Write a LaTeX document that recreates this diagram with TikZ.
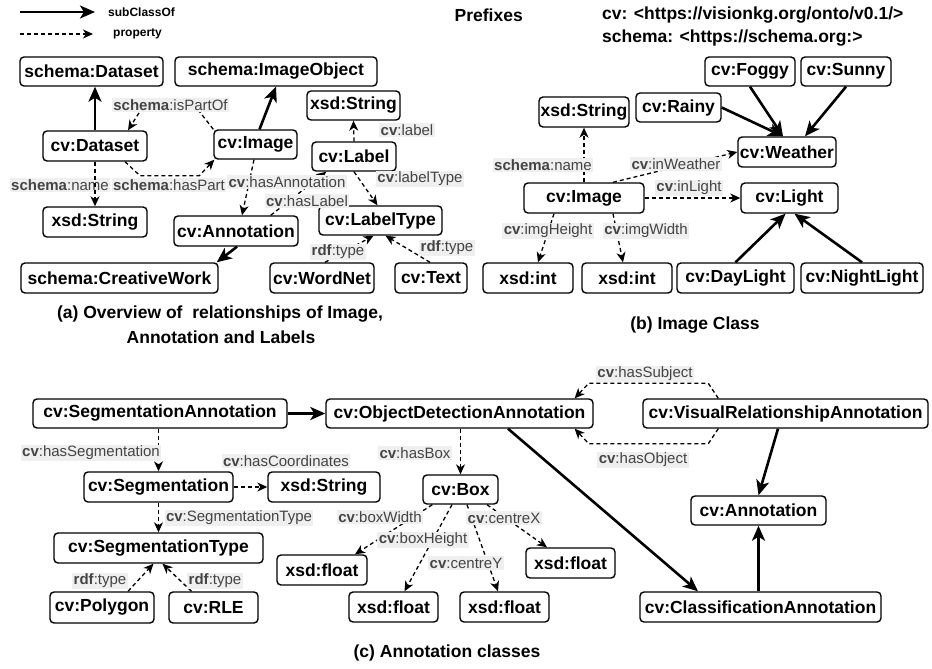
\documentclass[tikz,border=0pt]{standalone}
\usepackage{fontspec}
\setmainfont{Liberation Sans}
\usetikzlibrary{arrows.meta,calc}
\definecolor{labtext}{HTML}{444444}
\definecolor{labbg}{HTML}{EFEFEF}
\tikzset{
  box/.style={draw, line width=1.4pt, rounded corners=4pt, inner sep=0pt,
    font=\fontsize{17.5}{20}\selectfont\bfseries},
  lab/.style={fill=labbg, text=labtext, inner sep=1.5pt,
    font=\fontsize{15}{16}\selectfont},
  subc/.style={line width=2.6pt, -{Stealth[length=15pt,width=13pt,inset=4pt]}},
  prop/.style={line width=1.3pt, dash pattern=on 4pt off 3pt,
    -{Stealth[length=10pt,width=9pt,inset=3pt]}},
  captxt/.style={font=\fontsize{17.5}{20}\selectfont\bfseries, inner sep=0pt},
  legtxt/.style={font=\fontsize{12}{13}\selectfont\bfseries, inner sep=0pt, anchor=west},
}
\newcommand\bx[5]{\node[box,minimum width=#4pt,minimum height=#5pt] (#1) at (#2) {#3};}
\begin{document}
\begin{tikzpicture}[x=1pt,y=-1pt]
\fill[white] (0,0) rectangle (932,669);
\useasboundingbox (0,0) rectangle (932,669);

% ---------- legend ----------
\coordinate (lgA) at (20,12);
\coordinate (lgB) at (95,12);
\coordinate (lgC) at (20,34);
\coordinate (lgD) at (93,34);
\draw[subc] (lgA) -- (lgB);
\draw[prop] (lgC) -- (lgD);
\node[legtxt] (lgT1) at (108,12) {subClassOf};
\node[legtxt] (lgT2) at (113,34) {property};

% ---------- prefixes ----------
\node[captxt, anchor=east] (pfx) at (523,15) {Prefixes};
\node[captxt, anchor=west] (pfx1) at (602,15) {cv: <https://visionkg.org/onto/v0.1/>};
\node[captxt, anchor=west] (pfx2) at (602,38) {schema: <https://schema.org:>};

% ---------- panel (a) ----------
\bx{sDataset}{91.5,71.5}{schema:Dataset}{143}{29}
\bx{sImageObject}{276,71.5}{schema:ImageObject}{202}{29}
\bx{aDataset}{95,146}{cv:Dataset}{104}{30}
\bx{aImage}{255.5,144.5}{cv:Image}{83}{29}
\bx{aStrL}{95,222}{xsd:String}{104}{30}
\bx{aAnn}{236,231}{cv:Annotation}{124}{30}
\bx{aCW}{119.5,278}{schema:CreativeWork}{197}{30}
\bx{aStrT}{353.5,105.5}{xsd:String}{93}{29}
\bx{aLabel}{354,156.5}{cv:Label}{84}{29}
\bx{aLT}{380.5,220.5}{cv:LabelType}{123}{29}
\bx{aWN}{322,278}{cv:WordNet}{104}{30}
\bx{aText}{431,278}{cv:Text}{72}{30}

\node[lab] (lName1) at (60,185) {\textbf{schema}:name};
\draw[subc] (aDataset.north) -- (aDataset.north |- sDataset.south);
\draw[subc] ($(aImage.north)+(4,0)$) -- (sImageObject.south);
\draw[prop] (aImage.north west) -- ++(-14,-18) -- ($(aDataset.north)+(45,-19)$) -- ($(aDataset.north)+(33,0)$);
\draw[prop] ($(aDataset.south)+(30,0)$) -- ++(15,14) -- ($(aImage.south west)+(-14,16)$) -- ($(aImage.south west)+(1,0)$);
\draw[prop] (aDataset.south) -- (aStrL.north);
\draw[prop] ($(aImage.south)+(-1.5,0)$) -- ($(aAnn.north)+(6,0)$);
\draw[prop] ($(aAnn.north east)+(-28,0)$) -- ($(aLabel.south west)+(15,0)$);
\draw[prop] (aLabel.north) -- (aStrT.south);
\draw[prop] (aLabel.south) -- ($(aLT.north)+(-3,0)$);
\draw[prop] ($(aWN.north)+(3,0)$) -- ($(aLT.south)+(-7,0)$);
\draw[prop] ($(aText.north)+(-1,0)$) -- ($(aLT.south)+(5,0)$);
\draw[subc] ($(aAnn.south)+(1,0)$) -- ($(aCW.north east)+(-2,0)$);

\node[lab] (lPartOf) at (170.5,105) {\textbf{schema}:isPartOf};
\node[lab] (lHasPart) at (169,185) {\textbf{schema}:hasPart};
\node[lab] (lHasAnn) at (287,182) {\textbf{cv}:hasAnnotation};
\node[lab] (lHasLabel) at (307,201) {\textbf{cv}:hasLabel};
\node[lab] (lLabel) at (407,130) {\textbf{cv}:label};
\node[lab] (lLabelType) at (420,179) {\textbf{cv}:labelType};
\node[lab] (lType1) at (338,252) {\textbf{rdf}:type};
\node[lab] (lType2) at (447,248) {\textbf{rdf}:type};

\node[captxt] (capA1) at (220,314) {(a) Overview of\ \ relationships of Image,};
\node[captxt] (capA2) at (221,337) {Annotation and Labels};

% ---------- panel (b) ----------
\bx{bFoggy}{750,71.5}{cv:Foggy}{90}{29}
\bx{bSunny}{846,71.5}{cv:Sunny}{90}{29}
\bx{bRainy}{678.5,107.5}{cv:Rainy}{85}{29}
\bx{bStr}{584,112}{xsd:String}{90}{30}
\bx{bWeather}{787,152}{cv:Weather}{98}{30}
\bx{bImage}{584,198}{cv:Image}{120}{30}
\bx{bLight}{789.5,198}{cv:Light}{97}{30}
\bx{bInt1}{528,278}{xsd:int}{90}{30}
\bx{bInt2}{627,278}{xsd:int}{90}{30}
\bx{bDay}{735.5,278}{cv:DayLight}{117}{30}
\bx{bNight}{862,278}{cv:NightLight}{122}{30}

\draw[subc] (bRainy.east) -- ($(bWeather.north)+(-4,0)$);
\draw[subc] (bFoggy.south) -- ($(bWeather.north)+(-4,0)$);
\draw[subc] (bSunny.south) -- ($(bWeather.north)+(18,0)$);
\draw[prop] (bImage.north) -- (bStr.south);
\draw[prop] ($(bImage.north)+(29,0)$) -- (bWeather.west);
\draw[prop] (bImage.east) -- (bLight.west);
\draw[prop] ($(bImage.south)+(-30,0)$) -- ($(bInt1.north)+(10,0)$);
\draw[prop] ($(bImage.south)+(29,0)$) -- ($(bInt2.north)+(-4,0)$);
\draw[subc] (bDay.north) -- ($(bLight.south)+(-4,0)$);
\draw[subc] (bNight.north) -- ($(bLight.south)+(5,0)$);

\node[lab] (lbName) at (543,165) {\textbf{schema}:name};
\node[lab] (lbWeather) at (676,164) {\textbf{cv}:inWeather};
\node[lab] (lbLight) at (689,188) {\textbf{cv}:inLight};
\node[lab] (lbH) at (548,231) {\textbf{cv}:imgHeight};
\node[lab] (lbW) at (646,231) {\textbf{cv}:imgWidth};

\node[captxt] (capB) at (695,325) {(b) Image Class};

% ---------- panel (c) ----------
\bx{cSegAnn}{160,413.5}{cv:SegmentationAnnotation}{254}{29}
\bx{cObj}{459.5,413.5}{cv:ObjectDetectionAnnotation}{267}{29}
\bx{cVis}{785.5,413.5}{cv:VisualRelationshipAnnotation}{285}{29}
\bx{cAnn}{758.5,510.5}{cv:Annotation}{135}{29}
\bx{cCls}{760.5,607}{cv:ClassificationAnnotation}{241}{30}
\bx{cSeg}{158.5,487}{cv:Segmentation}{149}{30}
\bx{cStr}{324,487}{xsd:String}{112}{30}
\bx{cBox}{460.5,489.5}{cv:Box}{75}{29}
\bx{cSegT}{158.5,548}{cv:SegmentationType}{209}{30}
\bx{cPoly}{102,607.5}{cv:Polygon}{104}{31}
\bx{cRLE}{213.5,607.5}{cv:RLE}{89}{31}
\bx{cF1}{322,570}{xsd:float}{90}{30}
\bx{cF2}{393.5,607}{xsd:float}{89}{30}
\bx{cF3}{504.5,607}{xsd:float}{89}{30}
\bx{cF4}{570.5,563}{xsd:float}{89}{30}

\draw[subc] (cSegAnn.east) -- (cObj.west);
\draw[prop] (cSeg.north |- cSegAnn.south) -- (cSeg.north);
\draw[prop] (cSeg.east) -- (cStr.west);
\draw[prop] (cSeg.south) -- (cSegT.north);
\draw[prop] ($(cPoly.north)+(26,0)$) -- ($(cSegT.south)+(-5,0)$);
\draw[prop] ($(cRLE.north)+(-22,0)$) -- ($(cSegT.south)+(4,0)$);
\draw[prop] (cBox.north |- cObj.south) -- (cBox.north);
\draw[prop] ($(cBox.south west)+(10,0)$) -- ($(cF1.north)+(33,0)$);
\draw[prop] ($(cBox.south)+(-8.5,0)$) -- ($(cF2.north)+(11,0)$);
\draw[prop] ($(cBox.south)+(6.5,0)$) -- ($(cF3.north)+(-6.5,0)$);
\draw[prop] ($(cBox.south)+(26.5,0)$) -- ($(cF4.north)+(-23.5,0)$);
\draw[subc] ($(cObj.south)+(48.5,0)$) -- ($(cCls.north)+(-62.5,0)$);
\draw[prop] ($(cVis.north west)+(76,0)$) -- ++(-10,-15) -- ($(cObj.north east)+(-5,-15)$) -- ($(cObj.north east)+(-19,0)$);
\draw[prop] ($(cVis.south west)+(76,0)$) -- ++(-10,15) -- ($(cObj.south east)+(-5,15)$) -- ($(cObj.south east)+(-19,0)$);
\draw[subc] ($(cVis.south)+(-7.5,0)$) -- (cAnn.north);
\draw[subc] (cAnn.south |- cCls.north) -- (cAnn.south);

\node[lab] (lcSeg) at (91,453) {\textbf{cv}:hasSegmentation};
\node[lab] (lcCoord) at (286,461) {\textbf{cv}:hasCoordinates};
\node[lab] (lcSegT) at (239,518) {\textbf{cv}:SegmentationType};
\node[lab] (lcT1) at (100,581) {\textbf{rdf}:type};
\node[lab] (lcT2) at (215,581) {\textbf{rdf}:type};
\node[lab] (lcBox) at (415,453) {\textbf{cv}:hasBox};
\node[lab] (lcBW) at (380,517) {\textbf{cv}:boxWidth};
\node[lab] (lcBH) at (423,540) {\textbf{cv}:boxHeight};
\node[lab] (lcCY) at (466,563) {\textbf{cv}:centreY};
\node[lab] (lcCX) at (504,518) {\textbf{cv}:centreX};
\node[lab] (lcSubj) at (645,374) {\textbf{cv}:hasSubject};
\node[lab] (lcObj) at (643,460) {\textbf{cv}:hasObject};

\node[captxt] (capC) at (447,653) {(c) Annotation classes};
\end{tikzpicture}
\end{document}
